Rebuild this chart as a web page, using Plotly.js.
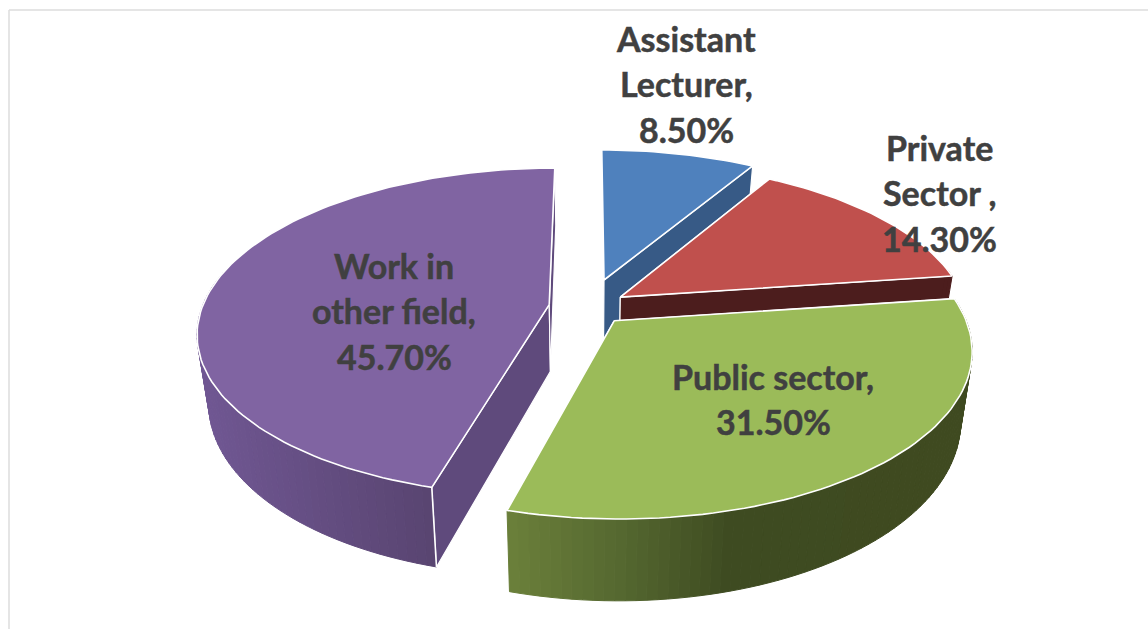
<!DOCTYPE html>
<html>
<head>
<meta charset="utf-8">
<script src="https://cdn.plot.ly/plotly-3.0.1.min.js"></script>
<style>
html,body{margin:0;padding:0;background:#fff}
#chart{width:1148px;height:629px}
#chart .annotation text{font-variant-ligatures:none;stroke:#404040;stroke-width:0.5px}
</style>
</head>
<body>
<div id="chart"></div>
<script>
// Employment outcome shares
const categories = ['Assistant Lecturer', 'Private Sector', 'Public sector', 'Work in other field'];
const shares = [8.5, 14.3, 31.5, 45.7];
const labelLines = [['Assistant', 'Lecturer,'], ['Private', 'Sector ,'], ['Public sector,'], ['Work in', 'other field,']];
const topColors = ['#4f81bd', '#c0504d', '#9bbb59', '#8064a2'];
const cutColors = ['#375a86', '#4c1d1d', '#3f4a20', '#5f4a7c'];
// Rim shading: [screen x, colour] stops along the outer wall of each slice
const rimShades = [
  [[0, [55, 90, 134]]],
  [[0, [76, 29, 29]]],
  [[507, [107, 128, 58]], [620, [85, 104, 48]], [730, [62, 75, 33]], [970, [63, 74, 32]]],
  [[197, [112, 87, 147]], [436, [88, 68, 112]]]
];
const explode = [0.18, 0.113, 0.113, 0.113];
const labelCenters = [[686, 38], [939, 147], [773, 376], [394, 265]];

// Camera model for the tilted disc
const cam = {x0: 588, y0: 307, a: 347, b: 160, k: 0.167, depth: 67, squeeze: 0.97};
const ARC_STEP = 1.5;

function project(u, v, down) {
  const w = 1 - cam.k * v;
  const sx = cam.a * u / w;
  const sy = cam.b * v / w;
  return down
    ? [cam.x0 + sx * cam.squeeze, cam.y0 + sy + cam.depth / w]
    : [cam.x0 + sx, cam.y0 + sy];
}

function shadeAt(stops, x) {
  if (stops.length === 1 || x <= stops[0][0]) return stops[0][1];
  for (let i = 1; i < stops.length; i++) {
    if (x <= stops[i][0]) {
      const t = (x - stops[i - 1][0]) / (stops[i][0] - stops[i - 1][0]);
      return stops[i - 1][1].map((c, j) => c + (stops[i][1][j] - c) * t);
    }
  }
  return stops[stops.length - 1][1];
}
const rgb = c => `rgb(${c.map(Math.round).join(',')})`;

function poly(points, fill, lineColor, lineWidth) {
  return {
    type: 'scatter', mode: 'lines', hoverinfo: 'skip', showlegend: false,
    x: points.map(p => p[0]), y: points.map(p => p[1]),
    fill: 'toself', fillcolor: fill,
    line: {color: lineColor || fill, width: lineWidth === undefined ? 1 : lineWidth}
  };
}
function stroke(points, color, width) {
  return {
    type: 'scatter', mode: 'lines', hoverinfo: 'skip', showlegend: false,
    x: points.map(p => p[0]), y: points.map(p => p[1]),
    line: {color, width}
  };
}

const traces = [];
const total = shares.reduce((s, v) => s + v, 0);
let startAngle = 0;
shares.forEach((share, i) => {
  const sweep = share / total * 360;
  const endAngle = startAngle + sweep;
  const mid = (startAngle + sweep / 2) * Math.PI / 180;
  const cu = explode[i] * Math.sin(mid);
  const cv = -explode[i] * Math.cos(mid);
  const onRim = (deg, down) => {
    const r = deg * Math.PI / 180;
    return project(cu + Math.sin(r), cv - Math.cos(r), down);
  };
  const apex = down => project(cu, cv, down);

  const angles = [];
  const n = Math.max(2, Math.ceil(sweep / ARC_STEP));
  for (let j = 0; j <= n; j++) angles.push(startAngle + sweep * j / n);

  // Cut faces go underneath the rim; the one at twelve o'clock on the first slice faces away
  [startAngle, endAngle].forEach(deg => {
    if (i === 0 && deg === startAngle) return;
    const quad = [apex(), onRim(deg), onRim(deg, true), apex(true)];
    traces.push(poly(quad.concat([quad[0]]), cutColors[i], '#ffffff', 1.2));
  });
  // Outer wall, one shaded band per arc step; bands facing the back are skipped
  for (let j = 0; j < n; j++) {
    const a0 = angles[j], a1 = angles[j + 1];
    if (Math.cos((a0 + a1) / 2 * Math.PI / 180) > 0.2) continue;
    const quad = [onRim(a0), onRim(a1), onRim(a1, true), onRim(a0, true)];
    const colour = rgb(shadeAt(rimShades[i], (quad[0][0] + quad[1][0]) / 2));
    traces.push(poly(quad.concat([quad[0]]), colour));
  }
  // Top face
  const top = [apex()].concat(angles.map(a => onRim(a)));
  traces.push(poly(top.concat([top[0]]), topColors[i], '#ffffff', 1.6));
  // Corner edge where the purple rim meets its cut face
  if (i === 3) traces.push(stroke([onRim(startAngle), onRim(startAngle, true)], '#ffffff', 1.6));

  startAngle = endAngle;
});

// Data labels, one line at a time with the percent line built from the share
const annotations = [];
const LINE_GAP = 45.8;
labelLines.forEach((lines, i) => {
  lines.concat([shares[i].toFixed(2) + '%']).forEach((text, row) => {
    annotations.push({
      x: labelCenters[i][0], y: labelCenters[i][1] + row * LINE_GAP,
      xref: 'x', yref: 'y', xanchor: 'center', yanchor: 'middle',
      text, showarrow: false,
      font: {family: 'Lato, Carlito, sans-serif', size: 34, color: '#404040', weight: 700}
    });
  });
});

const hidden = {visible: false, fixedrange: true};
const layout = {
  width: 1148, height: 629,
  margin: {l: 0, r: 0, t: 0, b: 0},
  paper_bgcolor: '#ffffff', plot_bgcolor: '#ffffff',
  showlegend: false,
  xaxis: Object.assign({range: [0, 1148]}, hidden),
  yaxis: Object.assign({range: [629, 0]}, hidden),
  annotations,
  shapes: [
    {type: 'line', xref: 'x', yref: 'y', x0: 9, x1: 1148, y0: 10, y1: 10, line: {color: '#dcdcdc', width: 1.5}},
    {type: 'line', xref: 'x', yref: 'y', x0: 9, x1: 9, y0: 10, y1: 629, line: {color: '#dcdcdc', width: 1.5}}
  ]
};
Plotly.newPlot('chart', traces, layout, {displayModeBar: false, staticPlot: true});
</script>
</body>
</html>
